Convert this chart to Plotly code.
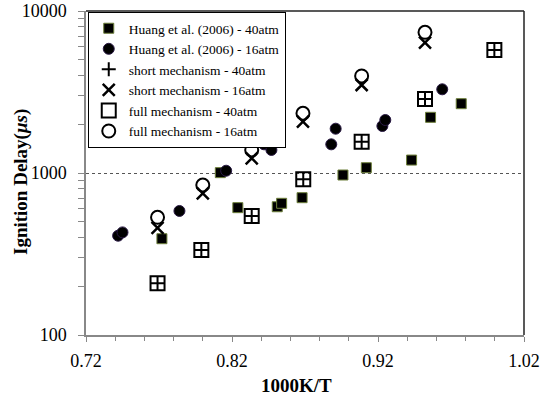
import plotly.graph_objects as go

# Huang et al. (2006) experiments
huang40_x = [0.772, 0.812, 0.824, 0.851, 0.854, 0.868, 0.896, 0.912, 0.943, 0.956, 0.977]
huang40_y = [393, 1005, 611, 619, 650, 704, 972, 1078, 1202, 2207, 2678]
huang16_x = [0.742, 0.745, 0.784, 0.816, 0.842, 0.847, 0.888, 0.891, 0.923, 0.925, 0.964]
huang16_y = [410, 430, 583, 1033, 1503, 1387, 1503, 1877, 1950, 2124, 3286]

# mechanisms
mech_x = [0.769, 0.799, 0.8335, 0.8688, 0.9088, 0.9522, 0.9997]
short40_y = [209, 335, 543, 915, 1560, 2862, 5743]
full40_y = [209, 335, 543, 915, 1560, 2862, 5743]
mech16_x = [0.769, 0.800, 0.8335, 0.8686, 0.9088, 0.9522]
short16_y = [458, 749, 1233, 2073, 3493, 6370]
full16_y = [533, 843, 1387, 2336, 3970, 7390]

x_ticks = [0.72, 0.82, 0.92, 1.02]
y_ticks = [100, 1000, 10000]
y_minor = [200, 300, 400, 500, 600, 700, 800, 900, 2000, 3000, 4000, 5000, 6000, 7000, 8000, 9000]

x_title = "<b>1000K/T</b>"
y_title = "<b>Ignition Delay(<i>μs</i>)</b>"

SERIF = "Liberation Serif, Times New Roman, serif"

fig = go.Figure()
fig.add_trace(go.Scatter(x=huang40_x, y=huang40_y, mode="markers",
                         name="Huang et al. (2006) - 40atm",
                         marker=dict(symbol="square", size=10, color="black",
                                     line=dict(color="#6d7f3a", width=1))))
fig.add_trace(go.Scatter(x=huang16_x, y=huang16_y, mode="markers",
                         name="Huang et al. (2006) - 16atm",
                         marker=dict(symbol="circle", size=11, color="black",
                                     line=dict(color="#2a1a45", width=1))))
fig.add_trace(go.Scatter(x=mech_x, y=short40_y, mode="markers",
                         name="short mechanism - 40atm",
                         marker=dict(symbol="cross-thin-open", size=10, color="black",
                                     line=dict(color="black", width=2))))
fig.add_trace(go.Scatter(x=mech16_x, y=short16_y, mode="markers",
                         name="short mechanism - 16atm",
                         marker=dict(symbol="x-thin-open", size=12, color="black",
                                     line=dict(color="black", width=2.5))))
fig.add_trace(go.Scatter(x=mech_x, y=full40_y, mode="markers",
                         name="full mechanism - 40atm",
                         marker=dict(symbol="square-open", size=14, color="black",
                                     line=dict(color="black", width=2))))
fig.add_trace(go.Scatter(x=mech16_x, y=full16_y, mode="markers",
                         name="full mechanism - 16atm",
                         marker=dict(symbol="circle-open", size=13, color="black",
                                     line=dict(color="black", width=2))))

fig.update_layout(
    width=546, height=399,
    margin=dict(l=86, r=22, t=11, b=64, autoexpand=False),
    plot_bgcolor="white", paper_bgcolor="white",
    font=dict(family=SERIF, size=18, color="black"),
    showlegend=True,
    legend=dict(x=0.004, y=0.997, xanchor="left", yanchor="top",
                bgcolor="white", bordercolor="black", borderwidth=1,
                font=dict(family=SERIF, size=13.5, color="black"),
                itemwidth=30, tracegroupgap=0),
    xaxis=dict(range=[0.72, 1.02], tickvals=x_ticks, ticktext=[f"{v:.2f}" for v in x_ticks],
               ticks="outside", ticklen=5, tickcolor="#888", showline=True,
               linecolor="#888", linewidth=1.5, showgrid=False, zeroline=False,
               automargin=False, ticklabelstandoff=4,
               minor=dict(dtick=0.02, tick0=0.72, ticks="outside", ticklen=4,
                          tickcolor="#888", showgrid=False)),
    yaxis=dict(type="log", range=[2, 4], tickvals=y_ticks, ticktext=[str(v) for v in y_ticks],
               ticks="outside", ticklen=6, tickcolor="#888", showline=True,
               linecolor="#888", linewidth=1.5, ticklabelstandoff=8,
               showgrid=True, gridcolor="#555", griddash="dot", gridwidth=1,
               zeroline=False, automargin=False,
               minor=dict(tickvals=y_minor, ticks="outside", ticklen=6,
                          tickcolor="#888", showgrid=False)),
)

# axis titles as annotations for exact placement
fig.add_annotation(text=x_title, xref="paper", yref="paper", x=0.5, y=0,
                   xanchor="center", yanchor="middle", xshift=-9, yshift=-50,
                   showarrow=False, font=dict(family=SERIF, size=19, color="black"))
fig.add_annotation(text=y_title, xref="paper", yref="paper", x=0, y=0.5,
                   xanchor="center", yanchor="middle", xshift=-65, yshift=-9,
                   textangle=-90, showarrow=False,
                   font=dict(family=SERIF, size=19, color="black"))

# dark frame on top and right
fig.add_shape(type="line", xref="paper", yref="paper", x0=0, x1=1, y0=1, y1=1,
              line=dict(color="#222", width=1.5))
fig.add_shape(type="line", xref="paper", yref="paper", x0=1, x1=1, y0=0, y1=1,
              line=dict(color="#222", width=1.5))

fig.write_html("out.html")
